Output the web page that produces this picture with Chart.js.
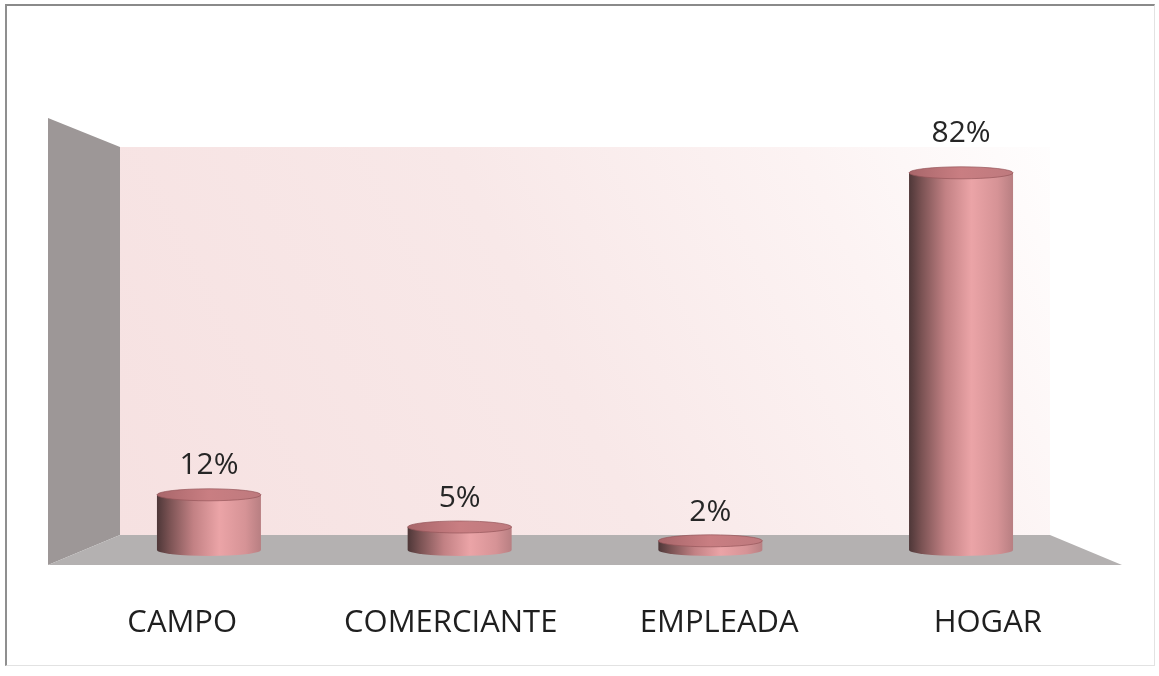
<!DOCTYPE html>
<html>
<head>
<meta charset="utf-8">
<script src="https://cdn.jsdelivr.net/npm/chart.js@4/dist/chart.umd.min.js"></script>
<style>
  html, body { margin: 0; padding: 0; background: #ffffff; }
  #wrap { position: relative; width: 1159px; height: 676px; }
  #frame { position: absolute; left: 5px; top: 4px; width: 1150px; height: 662px;
           border-top: 2px solid #8a8a8a; border-left: 2px solid #8f8f8f;
           border-right: 1px solid #e2e2e2; border-bottom: 1px solid #e2e2e2;
           pointer-events: none; box-sizing: border-box; }
  canvas { position: absolute; left: 0; top: 0; }
</style>
</head>
<body>
<div id="wrap">
  <canvas id="c" width="1159" height="676"></canvas>
  <div id="frame"></div>
</div>
<script>
// ---- data ----
const categories = ['CAMPO', 'COMERCIANTE', 'EMPLEADA', 'HOGAR'];
const values = [12, 5, 2, 82];
const valueLabels = ['12%', '5%', '2%', '82%'];
const yMin = 0;
const yMax = 90;

const FONT = '"Open Sans", "Noto Sans", sans-serif';

// 3D room: side wall, back wall and floor drawn around the plot area
const scenePlugin = {
  id: 'scene3d',
  beforeDatasetsDraw(chart) {
    const { ctx, chartArea: ca } = chart;
    const L = ca.left, R = ca.right, T = ca.top, B = ca.bottom;
    const dx = 72, fh = 15;
    const backL = L + dx, backR = R - dx, backT = T + 11, backB = B - fh;
    const frontTop = T - 18, frontB = B + fh;
    ctx.save();
    // back wall gradient
    const g = ctx.createLinearGradient(backL, backB, backR, backT - 80);
    g.addColorStop(0, '#f6e1e1');
    g.addColorStop(0.45, '#f8e8e8');
    g.addColorStop(0.75, '#fcf3f3');
    g.addColorStop(1, '#ffffff');
    ctx.fillStyle = g;
    ctx.fillRect(backL, backT, backR - backL, backB - backT);
    // side wall
    ctx.beginPath();
    ctx.moveTo(L, frontTop);
    ctx.lineTo(backL, backT);
    ctx.lineTo(backL, backB);
    ctx.lineTo(L, frontB);
    ctx.closePath();
    ctx.fillStyle = '#9d9797';
    ctx.fill();
    // floor
    ctx.beginPath();
    ctx.moveTo(L, frontB);
    ctx.lineTo(backL, backB);
    ctx.lineTo(backR, backB);
    ctx.lineTo(R, frontB);
    ctx.closePath();
    ctx.fillStyle = '#b4b1b1';
    ctx.fill();
    ctx.restore();
  },
  afterDatasetsDraw(chart) {
    const { ctx } = chart;
    const meta = chart.getDatasetMeta(0);
    ctx.save();
    meta.data.forEach((el, i) => {
      const { x, y, base, width } = el.getProps(['x', 'y', 'base', 'width'], true);
      const rx = width / 2, ry = 6;
      const left = x - rx, right = x + rx;
      // body
      const bg = ctx.createLinearGradient(left, 0, right, 0);
      bg.addColorStop(0, '#4e3738');
      bg.addColorStop(0.12, '#7a5253');
      bg.addColorStop(0.35, '#c28184');
      bg.addColorStop(0.6, '#eba4a7');
      bg.addColorStop(0.85, '#d69396');
      bg.addColorStop(1, '#b87f82');
      ctx.beginPath();
      ctx.moveTo(left, y);
      ctx.lineTo(left, base);
      ctx.ellipse(x, base, rx, ry, 0, Math.PI, 0, true);
      ctx.lineTo(right, y);
      ctx.closePath();
      ctx.fillStyle = bg;
      ctx.fill();
      // top
      const tg = ctx.createLinearGradient(left, 0, right, 0);
      tg.addColorStop(0, '#a8666a');
      tg.addColorStop(0.5, '#c97e82');
      tg.addColorStop(1, '#be7a7e');
      ctx.beginPath();
      ctx.ellipse(x, y, rx, ry, 0, 0, Math.PI * 2);
      ctx.fillStyle = tg;
      ctx.fill();
      ctx.strokeStyle = 'rgba(150,85,90,0.7)';
      ctx.lineWidth = 1;
      ctx.stroke();
      // value label
      const h = base - y;
      ctx.fillStyle = '#262626';
      ctx.font = '30px ' + FONT;
      ctx.textAlign = 'center';
      ctx.textBaseline = 'middle';
      ctx.fillText(valueLabels[i], x, y - 28 - 0.03 * h);
    });
    ctx.restore();
  }
};

const points = categories.map((c, i) => ({ x: i, y: values[i] }));

new Chart(document.getElementById('c'), {
  type: 'bar',
  data: {
    labels: categories,
    datasets: [{
      data: points,
      xAxisID: 'xb',
      yAxisID: 'y',
      backgroundColor: 'rgba(0,0,0,0)',
      borderWidth: 0,
      barThickness: 104
    }]
  },
  options: {
    responsive: false,
    animation: false,
    devicePixelRatio: 1,
    layout: { padding: { left: 48, right: 37, top: 136, bottom: 34 } },
    plugins: { legend: { display: false }, tooltip: { enabled: false } },
    scales: {
      x: {
        type: 'category',
        position: 'bottom',
        offset: true,
        grid: { display: false, drawTicks: false },
        border: { display: false },
        ticks: { padding: 55, color: '#1f1f1f', font: { family: FONT, size: 31 } },
        afterFit: (s) => { s.height = 92; }
      },
      xb: {
        type: 'linear',
        display: false,
        offset: false,
        grid: { offset: false },
        min: -0.642,
        max: 3.642
      },
      y: {
        display: false,
        min: yMin,
        max: yMax
      }
    }
  },
  plugins: [scenePlugin]
});
</script>
</body>
</html>
